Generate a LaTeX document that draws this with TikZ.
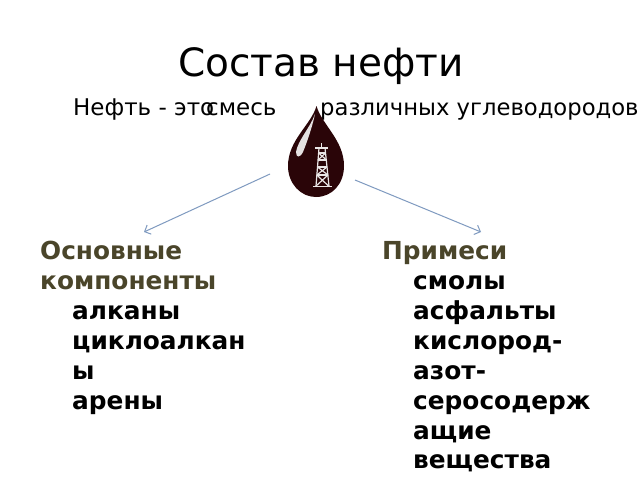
\documentclass[tikz,border=0pt]{standalone}
\usepackage{fontspec}
\setmainfont{DejaVu Sans}
\usetikzlibrary{arrows.meta}
\definecolor{headc}{HTML}{4A452A}
\definecolor{linec}{HTML}{7F9AC0}
\definecolor{oilc}{HTML}{2A0508}
\tikzset{
 x=1pt,y=-1pt,
 txt/.style={anchor=base west,inner sep=0pt,font=\fontsize{#1}{#1}\selectfont},
 head/.style={anchor=base west,inner sep=0pt,font=\fontsize{24.8}{25}\selectfont\bfseries,text=headc},
 item/.style={anchor=base west,inner sep=0pt,font=\fontsize{24.8}{25}\selectfont\bfseries,text=black},
 conn/.style={draw=linec,line width=1pt,-{Straight Barb[length=5pt,width=10pt]}},
 rig/.style={draw=white!90!oilc,line width=1.2pt}
}
\begin{document}
\begin{tikzpicture}
\useasboundingbox (0,0) rectangle (640,480);
\fill[white] (0,0) rectangle (640,480);
\node[txt=39] (title) at (178,76) {Состав нефти};
\node[txt=23] (l1) at (73,115) {Нефть - это};
\node[txt=23] (l2) at (206,115) {смесь};
\node[txt=22.7] (l3) at (320,115) {различных углеводородов};
% drop
\fill[oilc] (316.5,106) .. controls (311,125) and (288,140) .. (288,166)
  .. controls (288,184) and (301,197) .. (316,197)
  .. controls (332,197) and (344,184) .. (344,166)
  .. controls (344,140) and (322,125) .. (316.5,106) -- cycle;
\fill[white!88!oilc] (315,114) .. controls (310,128) and (298,140) .. (296,152)
  .. controls (296,158) and (300,158) .. (303,152)
  .. controls (307,142) and (312,128) .. (315,114) -- cycle;
% derrick
\draw[rig] (321.7,143) -- (321.7,148);
\draw[rig,line width=1.8pt] (315,147.7) -- (328,147.7);
\draw[rig] (319,148) -- (316,186);
\draw[rig] (325,148) -- (329,186);
\draw[rig,line width=1.4pt] (313,186.7) -- (332,186.7);
\draw[rig] (318.5,153) -- (325.5,153);
\draw[rig] (318,160) -- (326.5,160);
\draw[rig] (317.5,167) -- (327,167);
\draw[rig] (316.8,175) -- (328,175);
\draw[rig] (318.5,153) -- (326.5,160) (325.5,153) -- (318,160);
\draw[rig] (317.5,167) -- (328,175) (327,167) -- (316.8,175);
\draw[rig] (316.8,175) -- (328.6,186) (328,175) -- (316,186);
\coordinate (la) at (270,174);
\coordinate (lb) at (144,232);
\coordinate (ra) at (355,180);
\coordinate (rb) at (481,232);
\draw[conn] (la) -- (lb);
\draw[conn] (ra) -- (rb);
\node[head] (h1) at (40,259) {Основные};
\node[head] (h2) at (40,289) {компоненты};
\node[item] (a1) at (72,319) {алканы};
\node[item] (a2) at (72,349) {циклоалкан};
\node[item] (a3) at (72,379) {ы};
\node[item] (a4) at (72,409) {арены};
\node[head] (h3) at (382,259) {Примеси};
\node[item] (b1) at (413,289) {смолы};
\node[item] (b2) at (413,319) {асфальты};
\node[item] (b3) at (413,349) {кислород-};
\node[item] (b4) at (413,379) {азот-};
\node[item] (b5) at (413,409) {серосодерж};
\node[item] (b6) at (413,439) {ащие};
\node[item] (b7) at (413,468.5) {вещества};
\end{tikzpicture}
\end{document}
